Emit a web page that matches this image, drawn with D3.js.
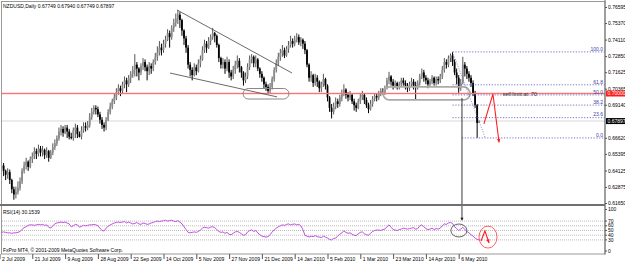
<!DOCTYPE html>
<html>
<head>
<meta charset="utf-8">
<script src="https://cdn.jsdelivr.net/npm/d3@7"></script>
<style>
body{margin:0;background:#fff;}
text{font-family:"Liberation Sans",Arial,sans-serif;font-size:5px;fill:#000;}
</style>
</head>
<body>
<div id="canvas"></div>
<script>
var W = 625, H = 263;

// ---- data ----
var symbol = "NZDUSD,Daily";
var firstOpen = 0.640;
var closes = [
 .643,.645,.641,.638,.640,.634,.627,.623,.625,.628,
 .633,.641,.645,.648,.644,.650,.652,.656,.654,.658,
 .655,.657,.653,.656,.651,.655,.659,.662,.666,.671,
 .673,.670,.674,.671,.667,.666,.672,.674,.669,.667,
 .672,.675,.674,.676,.682,.686,.689,.688,.684,.680,
 .676,.674,.680,.686,.690,.694,.697,.701,.704,.702,
 .707,.710,.707,.712,.715,.718,.722,.719,.716,.721,
 .724,.720,.717,.721,.719,.724,.728,.731,.735,.733,
 .738,.741,.746,.743,.750,.754,.757,.760,.756,.748,
 .742,.735,.722,.718,.714,.720,.717,.723,.726,.733,
 .738,.735,.740,.743,.746,.744,.737,.727,.722,.724,
 .719,.724,.716,.713,.718,.722,.725,.720,.716,.710,
 .713,.720,.726,.728,.723,.726,.719,.715,.712,.707,
 .705,.702,.705,.711,.718,.723,.728,.731,.733,.729,
 .734,.737,.740,.738,.741,.743,.739,.741,.738,.733,
 .722,.712,.714,.708,.712,.709,.704,.707,.711,.706,
 .697,.689,.686,.690,.694,.692,.697,.700,.703,.699,
 .697,.699,.694,.691,.689,.694,.697,.699,.695,.691,
 .688,.692,.696,.698,.697,.700,.702,.701,.704,.710,
 .713,.709,.706,.708,.705,.707,.710,.708,.706,.704,
 .707,.709,.706,.705,.708,.713,.716,.712,.710,.707,
 .709,.712,.708,.711,.710,.713,.718,.724,.722,.727,
 .729,.724,.716,.712,.704,.708,.722,.719,.715,.712,
 .708,.700,.691,.67749,.67897
];
var highs = [
 .646,.648,.647,.642,.643,.642,.635,.629,.629,.633,
 .636,.643,.648,.651,.649,.652,.655,.659,.658,.661,
 .660,.660,.658,.659,.657,.657,.662,.665,.668,.674,
 .676,.675,.676,.676,.673,.670,.674,.677,.676,.671,
 .675,.678,.678,.679,.685,.689,.691,.691,.690,.686,
 .682,.678,.682,.688,.693,.696,.700,.704,.707,.706,
 .709,.713,.712,.714,.717,.721,.730,.724,.720,.723,
 .727,.726,.722,.724,.723,.726,.731,.736,.740,.738,
 .741,.744,.749,.748,.752,.757,.761,.7635,.762,.757,
 .749,.744,.737,.724,.720,.723,.722,.726,.729,.736,
 .741,.740,.743,.745,.750,.747,.745,.738,.728,.727,
 .726,.728,.726,.718,.721,.725,.729,.727,.721,.717,
 .716,.723,.729,.730,.729,.729,.727,.720,.717,.713,
 .709,.707,.708,.713,.720,.726,.731,.734,.737,.735,
 .736,.740,.744,.742,.744,.746,.745,.743,.742,.740,
 .734,.723,.717,.715,.715,.714,.710,.709,.715,.712,
 .707,.698,.692,.693,.697,.696,.699,.703,.707,.704,
 .701,.702,.700,.696,.693,.696,.700,.702,.700,.697,
 .693,.695,.698,.700,.700,.702,.704,.704,.706,.712,
 .7165,.714,.711,.710,.709,.709,.712,.712,.710,.708,
 .709,.712,.711,.709,.710,.715,.719,.718,.714,.712,
 .711,.714,.713,.713,.713,.715,.721,.727,.726,.729,
 .7305,.7317,.726,.719,.714,.711,.728,.724,.721,.717,
 .714,.710,.702,.692,.6794
];
var lows = [
 .638,.640,.637,.634,.635,.631,.624,.619,.620,.623,
 .626,.631,.639,.642,.641,.643,.647,.650,.650,.652,
 .652,.652,.650,.651,.648,.650,.653,.657,.660,.664,
 .668,.667,.669,.666,.665,.665,.664,.666,.666,.6665,
 .665,.670,.671,.672,.674,.680,.684,.684,.682,.677,
 .673,.671,.672,.679,.684,.688,.692,.695,.699,.698,
 .700,.704,.701,.705,.708,.712,.713,.713,.710,.714,
 .718,.717,.710,.714,.715,.717,.722,.725,.729,.729,
 .731,.735,.740,.735,.741,.747,.751,.753,.750,.744,
 .737,.731,.719,.713,.710,.713,.714,.716,.720,.725,
 .731,.731,.734,.737,.741,.739,.735,.724,.719,.719,
 .715,.717,.712,.710,.711,.715,.719,.716,.712,.706,
 .708,.711,.718,.723,.720,.720,.717,.712,.709,.704,
 .702,.6995,.700,.703,.709,.716,.721,.725,.728,.727,
 .728,.731,.735,.735,.736,.739,.737,.736,.734,.730,
 .720,.709,.709,.705,.706,.705,.701,.701,.705,.703,
 .694,.686,.681,.684,.688,.689,.690,.694,.698,.696,
 .694,.695,.692,.687,.686,.688,.692,.695,.692,.689,
 .685,.687,.690,.694,.694,.695,.698,.699,.699,.703,
 .707,.706,.703,.704,.703,.703,.705,.706,.703,.701,
 .702,.705,.703,.695,.703,.706,.711,.709,.707,.704,
 .705,.707,.706,.706,.707,.708,.711,.716,.719,.720,
 .724,.721,.714,.707,.7005,.702,.707,.713,.711,.709,
 .705,.698,.689,.6662,.67749
];
var rsi = [
 47,46,47,46,45,45,44,45,45,46,
 48,52,56,58,61,62,62,61,62,63,
 62,63,61,62,57,55,60,64,66,67,
 68,67,68,66,64,58,60,63,62,57,
 59,61,60,61,62,62,63,62,60,55,
 50,49,55,59,62,64,66,67,68,67,
 68,69,66,68,66,64,65,67,64,63,
 66,65,63,64,66,67,69,70,69,70,
 71,72,70,71,72,70,69,71,68,64,
 58,52,46,45,46,47,46,48,51,55,
 57,56,55,57,58,56,52,48,46,47,
 44,46,42,41,44,47,48,46,43,40,
 41,47,50,51,48,50,45,41,38,37,
 36,37,41,47,51,55,58,60,62,61,
 63,64,62,63,64,62,63,60,52,40,
 38,36,38,37,39,37,36,35,38,36,
 34,31,30,33,34,38,42,45,49,46,
 44,45,42,40,39,43,46,47,43,41,
 40,44,48,50,51,51,50,52,53,58,
 62,57,52,51,50,52,53,55,54,53,
 54,55,56,53,54,60,62,58,54,52,
 53,55,52,54,53,55,60,64,63,66,
 67,65,58,54,50,53,57,52,48,45,
 41,38,34,31,30.1539
];
var priceTicks = [0.76595,0.75370,0.74110,0.72850,0.71625,0.70365,0.69140,0.66620,0.65395,0.64125,0.62875,0.61650];
var dateTicks = [0,16,32,48,64,80,96,112,128,144,160,176,192,208,224];
var dateLabels = ["2 Jul 2009","21 Jul 2009","9 Aug 2009","28 Aug 2009","22 Sep 2009","14 Oct 2009","5 Nov 2009",
  "27 Nov 2009","21 Dec 2009","14 Jan 2010","5 Feb 2010","1 Mar 2010","23 Mar 2010","14 Apr 2010","6 May 2010"];
var rsiTicks = [100,70,60,50,40,30,0];
var rsiLevels = [70,60,50,40,30];
var fibLevels = [0,23.6,38.2,50,61.8,100];
var fibHigh = 0.7317, fibLow = 0.6661, fibBarHigh = 221, fibBarLow = 237;
var sellLimit = 0.70;

// drawn objects, in (bar, price) / (bar, rsi)
var wedgeUpper = [[86.6,0.7637],[142.7,0.7156]];
var wedgeLower = [[83.2,0.7156],[135.4,0.6974]];
var boxes = [{a:118.8,b:141.2,top:0.7038,bot:0.6958,c:'#888',w:1},
             {a:187.1,b:229.5,top:0.7050,bot:0.6951,c:'#aaa',w:1.8}];
var sellArrow = [[236.3,0.6768],[240.7,0.6996],[243.7,0.6626]];
var rsiArrow = [[234.9,27.7],[236.8,49],[238.8,23.4]];
var vBar = 225.6, vTop = 0.6966, vBottomRsi = 73;

// ---- scales ----
var x = d3.scaleLinear().domain([0,224]).range([-0.5,458.7]);
var y = d3.scaleLinear().domain([0.61650,0.76595]).range([203,7]);
var yR = d3.scaleLinear().domain([0,100]).range([254,207]);

var bars = closes.map(function(c,i){
  var o = i === 0 ? firstOpen : closes[i-1]; // FX daily open = previous close
  return {i:i, o:o, c:c, h:Math.max(highs[i],o,c), l:Math.min(lows[i],o,c)};
});
var last = bars[bars.length-1];

var svg = d3.select('#canvas').append('svg')
  .attr('width', W).attr('height', H).style('display','block');
svg.append('rect').attr('width',W).attr('height',H).attr('fill','#fff');

svg.append('clipPath').attr('id','mainclip').append('rect')
  .attr('x',2).attr('y',2).attr('width',603).attr('height',202);
svg.append('clipPath').attr('id','rsiclip').append('rect')
  .attr('x',2).attr('y',206).attr('width',603).attr('height',48);

var plot = svg.append('g').attr('clip-path','url(#mainclip)');
var low = svg.append('g').attr('clip-path','url(#rsiclip)');

// bid line
plot.append('line').attr('x1',0).attr('x2',605)
  .attr('y1',y(last.c)).attr('y2',y(last.c))
  .style('stroke','#e4e4e4').style('stroke-width',1.6);

// candles
var candle = plot.selectAll('.bar').data(bars).enter().append('g').attr('class','bar');
candle.append('line')
  .attr('x1',function(d){return x(d.i);}).attr('x2',function(d){return x(d.i);})
  .attr('y1',function(d){return y(d.h);}).attr('y2',function(d){return y(d.l);})
  .style('stroke',function(d){return d.c>=d.o?'#555':'#000';}).style('stroke-width',1);
candle.append('rect')
  .attr('x',function(d){return x(d.i)-0.9;}).attr('width',1.8)
  .attr('y',function(d){return y(Math.max(d.o,d.c));})
  .attr('height',function(d){return Math.max(0.8,Math.abs(y(d.o)-y(d.c)));})
  .style('fill',function(d){return d.c>=d.o?'#8c8c8c':'#000';});

// sell limit line (pending order level)
plot.append('rect').attr('x',0).attr('width',605)
  .attr('y',y(sellLimit)-0.7).attr('height',1.4)
  .style('fill','#ff7272');

// wedge
[wedgeUpper, wedgeLower].forEach(function(p){
  plot.append('line')
    .attr('x1',x(p[0][0])).attr('y1',y(p[0][1]))
    .attr('x2',x(p[1][0])).attr('y2',y(p[1][1]))
    .style('stroke','#444').style('stroke-width',0.8);
});

// rounded boxes
boxes.forEach(function(b){
  var h = y(b.bot)-y(b.top);
  plot.append('rect').attr('x',x(b.a)).attr('y',y(b.top))
    .attr('width',x(b.b)-x(b.a)).attr('height',h).attr('rx',h/2).attr('ry',h/2)
    .style('fill','none').style('stroke',b.c).style('stroke-width',b.w);
});

// fibonacci
var fibColor = '#5050c0';
fibLevels.forEach(function(l){
  var p = fibLow + (fibHigh-fibLow)*l/100;
  var x0 = l === 0 ? x(vBar) : x(fibBarHigh);
  plot.append('line').attr('x1',x0).attr('x2',605)
    .attr('y1',y(p)).attr('y2',y(p))
    .style('stroke',fibColor).style('stroke-width',0.8).style('stroke-dasharray','1.2,1.6');
  plot.append('text').attr('x',603).attr('y',y(p)-1.2).attr('text-anchor','end')
    .style('fill','#4040a0').text(d3.format('.1f')(l));
});
plot.append('line')
  .attr('x1',x(fibBarHigh)).attr('y1',y(fibHigh))
  .attr('x2',x(fibBarLow)).attr('y2',y(fibLow))
  .style('stroke','#7070b0').style('stroke-width',0.8).style('stroke-dasharray','1,1.5');

// sell limit label + arrow
plot.append('text').attr('x',x(245.5)).attr('y',y(sellLimit)+2.3)
  .style('fill','#333').style('font-size','5.4px').text('sell limit at .70');

function arrow(g, pts, sy){
  g.append('path')
    .attr('d', d3.line().x(function(d){return x(d[0]);}).y(function(d){return sy(d[1]);})(pts))
    .style('fill','none').style('stroke','#ff2020').style('stroke-width',1.1);
  var a = pts[pts.length-2], b = pts[pts.length-1];
  var ax = x(a[0]), ay = sy(a[1]), bx = x(b[0]), by = sy(b[1]);
  var ang = Math.atan2(by-ay, bx-ax);
  var s = 4;
  g.append('path')
    .attr('d','M'+bx+','+by+'L'+(bx-s*Math.cos(ang-0.45))+','+(by-s*Math.sin(ang-0.45))+
      'L'+(bx-s*Math.cos(ang+0.45))+','+(by-s*Math.sin(ang+0.45))+'Z')
    .style('fill','#ff2020');
}
arrow(plot, sellArrow, y);

// vertical marker crossing into rsi window
svg.append('line').attr('x1',x(vBar)).attr('x2',x(vBar))
  .attr('y1',y(vTop)).attr('y2',yR(vBottomRsi))
  .style('stroke','#222').style('stroke-width',0.9);
svg.append('path')
  .attr('d','M'+(x(vBar)-1.6)+','+(yR(vBottomRsi)-2)+'L'+(x(vBar)+1.6)+','+(yR(vBottomRsi)-2)+'L'+x(vBar)+','+(yR(vBottomRsi)+1)+'Z')
  .style('fill','#222');

// ---- rsi window ----
rsiLevels.forEach(function(l){
  low.append('line').attr('x1',0).attr('x2',605).attr('y1',yR(l)).attr('y2',yR(l))
    .style('stroke','#a0a0a0').style('stroke-width',0.7).style('stroke-dasharray','1,1');
});
low.append('path')
  .attr('d', d3.line().x(function(d,i){return x(i);}).y(function(d){return yR(d);})(rsi))
  .style('fill','none').style('stroke','#c24fe0').style('stroke-width',1);
low.append('ellipse').attr('cx',x(224.1)).attr('cy',yR(50)).attr('rx',8).attr('ry',6.5)
  .style('fill','none').style('stroke','#555').style('stroke-width',0.9);
low.append('ellipse').attr('cx',x(238.3)).attr('cy',yR(36)).attr('rx',9).attr('ry',11)
  .style('fill','none').style('stroke','#ff5050').style('stroke-width',0.9);
arrow(low, rsiArrow, yR);

// ---- frame ----
svg.append('rect').attr('x',1.5).attr('y',1.5).attr('width',603.5).attr('height',252.5)
  .style('fill','none').style('stroke','#999').style('stroke-width',1);
svg.append('line').attr('x1',0).attr('x2',605).attr('y1',205).attr('y2',205)
  .style('stroke','#707070').style('stroke-width',2.2);
svg.append('line').attr('x1',605).attr('x2',605).attr('y1',0).attr('y2',254.5)
  .style('stroke','#707070').style('stroke-width',1);

// ---- axes ----
var ay = svg.append('g').attr('transform','translate(605,0)')
  .call(d3.axisRight(y).tickValues(priceTicks).tickFormat(d3.format('.5f')).tickSize(2).tickSizeOuter(0));
var ar = svg.append('g').attr('transform','translate(605,0)')
  .call(d3.axisRight(yR).tickValues(rsiTicks).tickFormat(d3.format('d')).tickSize(2).tickSizeOuter(0));
ar.selectAll('.tick').attr('transform',function(d){
  return 'translate(0,'+Math.max(209.5,Math.min(251,yR(d)))+')';
});
var ax = svg.append('g').attr('transform','translate(0,254)')
  .call(d3.axisBottom(x).tickValues(dateTicks).tickFormat(function(d,i){return dateLabels[i];}).tickSize(5).tickSizeOuter(0));
[ay, ar, ax].forEach(function(g){
  g.select('.domain').remove();
  g.selectAll('line').style('stroke','#555');
  g.selectAll('text').style('font-size','5px').style('fill','#000')
    .attr('font-family',null).attr('font-size',null);
});
ay.selectAll('text').attr('x',3);
ar.selectAll('text').attr('x',3);
ax.selectAll('text').attr('text-anchor','start').attr('x',2).attr('y',6.8).attr('dy',0);

// price boxes
[{p:sellLimit,bg:'#ff1a1a'},{p:last.c,bg:'#000'}].forEach(function(b){
  svg.append('rect').attr('x',606).attr('y',y(b.p)-3).attr('width',19).attr('height',6).style('fill',b.bg);
  svg.append('text').attr('x',607.5).attr('y',y(b.p)+1.8).style('fill','#fff').text(d3.format('.5f')(b.p));
});

// ---- texts ----
var f5 = d3.format('.5f');
svg.append('text').attr('x',3).attr('y',7.5)
  .text(symbol+'  '+f5(last.o)+' '+f5(last.h)+' '+f5(last.l)+' '+f5(last.c));
svg.append('text').attr('x',3).attr('y',214)
  .text('RSI(14) '+d3.format('.4f')(rsi[rsi.length-1]));
svg.append('text').attr('x',3).attr('y',252)
  .text('FxPro MT4, \u00a9 2001-2009 MetaQuotes Software Corp.');
</script>
</body>
</html>
